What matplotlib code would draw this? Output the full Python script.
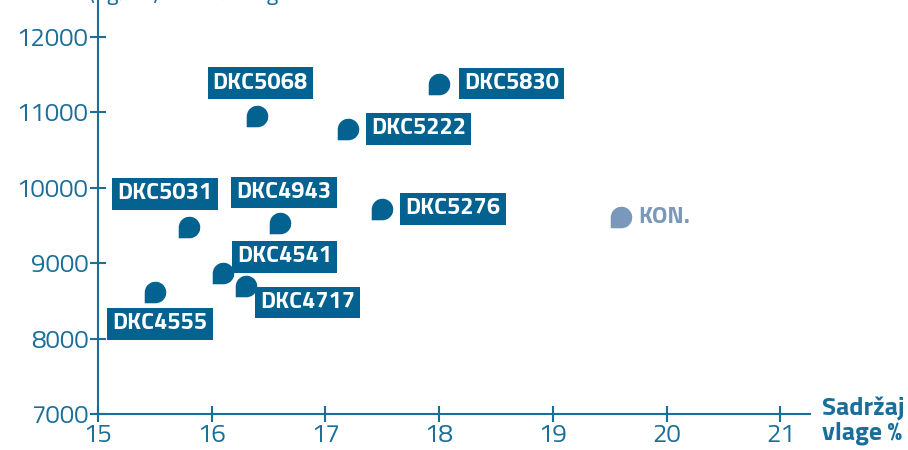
import numpy as np
import matplotlib
matplotlib.use("Agg")
from matplotlib import pyplot as plt
from matplotlib.path import Path

plt.rcParams['font.family'] = ['Titillium Web', 'DejaVu Sans']

# data
hybrids = ['DKC5068', 'DKC5830', 'DKC5222', 'DKC5031', 'DKC4943',
           'DKC5276', 'KON.', 'DKC4541', 'DKC4717', 'DKC4555']
moisture = [16.4, 18.0, 17.2, 15.8, 16.6, 17.5, 19.6, 16.1, 16.3, 15.5]
yields = [10950, 11380, 10780, 9480, 9530, 9720, 9610, 8870, 8700, 8620]

# label placement: (dx, dy) in pixels, horizontal alignment
label_pos = {
    'DKC5068': (3, 33, 'center'),
    'DKC5830': (25, 0, 'left'),
    'DKC5222': (23, 0, 'left'),
    'DKC5031': (-24, 33, 'center'),
    'DKC4943': (4, 31, 'center'),
    'DKC5276': (23, 0, 'left'),
    'KON.': (17, 0, 'left'),
    'DKC4541': (14, 16, 'left'),
    'DKC4717': (14, -17, 'left'),
    'DKC4555': (5, -32, 'center'),
}

blue = '#03628f'
axis_col = '#1a6e9a'
kon_col = '#7a98b9'

# teardrop marker: circle with a square bottom-left corner
arc = Path.arc(-90, 180)
verts = np.concatenate([arc.vertices, [[-1, -1], [0, -1], [0, -1]]])
codes = list(arc.codes) + [Path.LINETO, Path.LINETO, Path.CLOSEPOLY]
drop = Path(verts, codes)

fig = plt.figure(figsize=(9.08, 4.5), dpi=100)
ax = fig.add_axes([0.108, 0.08, 0.784, 0.92])

for name, x, y in zip(hybrids, moisture, yields):
    col = kon_col if name == 'KON.' else blue
    ax.scatter(x, y, s=250, marker=drop, color=col, linewidths=0, zorder=3)
    dx, dy, ha = label_pos[name]
    if name == 'KON.':
        ax.annotate(name, (x, y), xytext=(dx, dy), textcoords='offset pixels',
                    ha=ha, va='center', fontsize=17, fontweight='bold', color=kon_col)
    else:
        ax.annotate(name, (x, y), xytext=(dx, dy), textcoords='offset pixels',
                    ha=ha, va='center', fontsize=17, fontweight='bold', color='white',
                    bbox=dict(boxstyle='square,pad=0.22', fc=blue, ec='none'), zorder=4)

ax.set_xlim(15, 21.26)
ax.set_ylim(7000, 12490)
ax.set_xticks(range(15, 22))
ax.set_yticks(range(7000, 12001, 1000))
for s in ['top', 'right']:
    ax.spines[s].set_visible(False)
for s in ['left', 'bottom']:
    ax.spines[s].set_color(axis_col)
    ax.spines[s].set_linewidth(1.5)
ax.tick_params(direction='inout', length=12, width=1.5, color=axis_col,
               labelcolor=axis_col, labelsize=18.5, pad=1)

fig.text(822 / 908, 1 - 421 / 450, 'Sadržaj\nvlage %', ha='left', va='center',
         fontsize=18.5, fontweight='bold', color=axis_col, linespacing=1.0)
fig.text(20 / 908, 1.0, 'Prinos (kg/ha) sa 14% vlage', ha='left', va='baseline',
         fontsize=17, color=axis_col)

fig.savefig('out.png', dpi=100)
